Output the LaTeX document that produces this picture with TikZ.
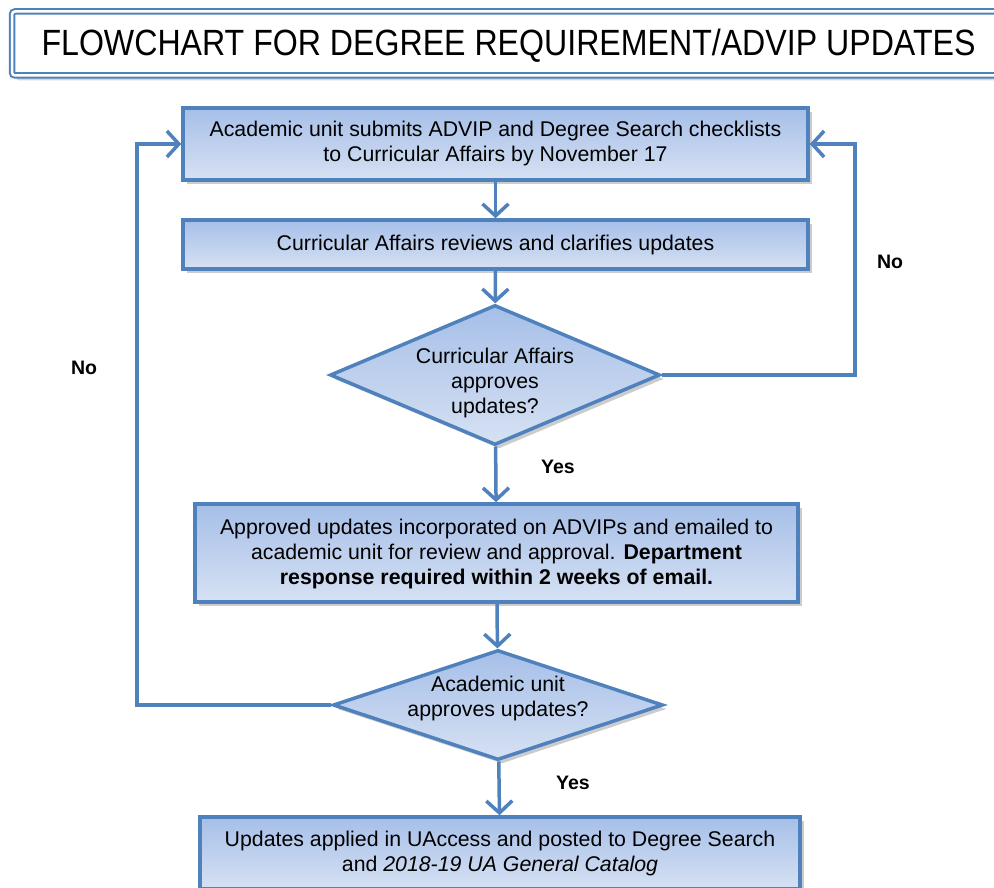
\documentclass[tikz,border=0pt]{standalone}
\usepackage{fontspec}
\setmainfont{Liberation Sans}
\usetikzlibrary{arrows.meta,shapes.geometric,shadows}
\definecolor{edge}{HTML}{4F81BD}
\definecolor{ftop}{HTML}{A6BFE8}
\definecolor{fbot}{HTML}{D6E1F3}
\begin{document}
\begin{tikzpicture}[x=1pt,y=-1pt,
  shade/.style={preaction={fill=black,opacity=0.2,transform canvas={shift={(4pt,-4pt)}}}},
  procbox/.style={rectangle,draw=edge,line width=3.5pt,top color=ftop,bottom color=fbot,shade,inner sep=0pt},
  decbox/.style={diamond,draw=edge,line width=3.5pt,top color=ftop,bottom color=fbot,shade,inner sep=0pt},
  txt/.style={font=\fontsize{21.3}{25}\selectfont,align=center,inner sep=0pt},
  arr/.style={draw=edge,line width=3.5pt,-{Straight Barb[length=12pt,width=26pt]}},
  lbl/.style={font=\fontsize{19.5}{23}\selectfont\bfseries,inner sep=0pt}]
\useasboundingbox (0,0) rectangle (994,888);
% title
\node (title) [draw=edge,line width=2pt,double=white,double distance=2.5pt,fill=white,rounded corners=3pt,
  preaction={fill=black,opacity=0.16,transform canvas={shift={(4pt,-5pt)}}},
  minimum width=992pt,minimum height=64pt,inner sep=0pt,
  font=\fontsize{36.5}{40}\selectfont] at (508,43.5) {};
\node (titlet) [inner sep=0pt,font=\fontsize{36.5}{40}\selectfont] at (508.5,46) {\scalebox{0.88}[1]{FLOWCHART FOR DEGREE REQUIREMENT/ADVIP UPDATES}};
% boxes
\node (b1) [procbox,minimum width=625pt,minimum height=72pt] at (495.5,144) {};
\node (b1t) [txt] at (495.5,143.5) {Academic unit submits ADVIP and Degree Search checklists\\to Curricular Affairs by November 17};
\node (b2) [procbox,minimum width=625pt,minimum height=49pt] at (495.5,244.5) {};
\node (b2t) [txt] at (495.5,245) {Curricular Affairs reviews and clarifies updates};
\node (d1) [decbox,minimum width=330pt,minimum height=140pt] at (495,375) {};
\node (d1t) [txt] at (495,383) {Curricular Affairs\\approves\\updates?};
\node (b3) [procbox,minimum width=603pt,minimum height=98pt] at (496.5,553) {};
\node (b3t) [txt] at (496.5,553.5) {Approved updates incorporated on ADVIPs and emailed to\\academic unit for review and approval. \textbf{Department}\\\textbf{response required within 2 weeks of email.}};
\node (d2) [decbox,minimum width=330pt,minimum height=110pt] at (498,705) {};
\node (d2t) [txt] at (498,698.5) {Academic unit\\approves updates?};
\node (b4) [procbox,minimum width=600pt,minimum height=72pt] at (500,853) {};
\node (b4t) [txt] at (500,853.5) {Updates applied in UAccess and posted to Degree Search\\and \textit{2018-19 UA General Catalog}};
% connectors
\coordinate (rNo) at (855,375);
\coordinate (lNo) at (137,705);
\draw[arr] (b1) -- (b2);
\draw[arr] (b2) -- (d1);
\draw[arr] (d1) -- (b3);
\draw[arr] (b3) -- (d2);
\draw[arr] (d2) -- (b4);
\draw[arr] (d1.east) -- (rNo) |- (b1.east);
\draw[arr] (d2.west) -- (lNo) |- (b1.west);
% labels
\node (no1) [lbl] at (890,262) {No};
\node (no2) [lbl] at (84,368) {No};
\node (yes1) [lbl] at (558,467) {Yes};
\node (yes2) [lbl] at (573,783) {Yes};
\end{tikzpicture}
\end{document}
